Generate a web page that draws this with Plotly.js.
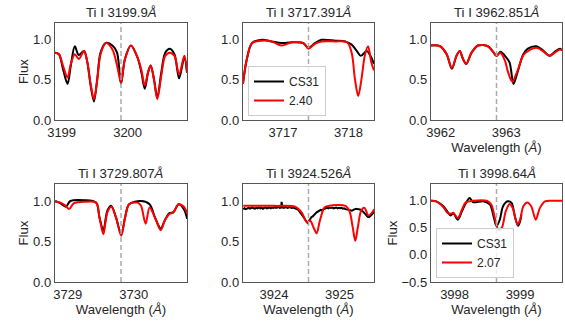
<!DOCTYPE html>
<html>
<head>
<meta charset="utf-8">
<script src="https://cdn.plot.ly/plotly-3.0.1.min.js"></script>
<style>html,body{margin:0;padding:0;background:#fff;}#chart{width:565px;height:323px;}</style>
</head>
<body>
<div id="chart"></div>
<script>
// ---- line centres (Å) ----
const lineCentres = [3199.9, 3717.391, 3962.851, 3729.807, 3924.526, 3998.64];
const panelTitles = ["Ti I 3199.9", "Ti I 3717.391", "Ti I 3962.851", "Ti I 3729.807", "Ti I 3924.526", "Ti I 3998.64"];
const xTicks = [[3199, 3200], [3717, 3718], [3962, 3963], [3729, 3730], [3924, 3925], [3998, 3999]];
const legendLabels = {obs: "CS31", syn2: "2.40", syn6: "2.07"};

// ---- panel 1: Ti I 3199.9 ----
const wl1Obs = [3198.90,3198.96,3199.02,3199.09,3199.14,3199.20,3199.26,3199.34,3199.39,3199.44,3199.49,3199.54,3199.59,3199.67,3199.77,3199.84,3199.90,3199.96,3200.05,3200.15,3200.21,3200.26,3200.31,3200.35,3200.40,3200.45,3200.51,3200.57,3200.64,3200.71,3200.78,3200.86,3200.90];
const fl1Obs = [0.84,0.82,0.64,0.45,0.68,0.92,0.81,0.86,0.72,0.43,0.23,0.51,0.84,0.96,0.93,0.84,0.45,0.76,0.93,0.78,0.59,0.39,0.59,0.68,0.51,0.28,0.59,0.84,0.89,0.82,0.52,0.78,0.59];
const wl1Syn = wl1Obs;
const fl1Syn = [0.84,0.82,0.68,0.53,0.70,0.82,0.76,0.86,0.72,0.45,0.26,0.50,0.82,0.96,0.88,0.68,0.47,0.76,0.93,0.78,0.62,0.43,0.60,0.68,0.50,0.26,0.55,0.80,0.84,0.80,0.57,0.80,0.60];

// ---- panel 2: Ti I 3717.391 ----
const wl2Obs = [3716.39,3716.45,3716.53,3716.68,3716.83,3716.98,3717.14,3717.31,3717.39,3717.49,3717.59,3717.80,3717.95,3718.05,3718.13,3718.19,3718.28,3718.35,3718.39];
const fl2Obs = [0.45,0.76,0.96,1.00,0.98,0.96,0.97,0.96,0.90,0.96,1.00,0.99,0.98,0.94,0.86,0.80,0.86,0.78,0.70];
const wl2Syn = [3716.39,3716.45,3716.53,3716.68,3716.83,3716.98,3717.14,3717.31,3717.39,3717.49,3717.59,3717.80,3717.98,3718.05,3718.10,3718.15,3718.20,3718.25,3718.30,3718.35,3718.39];
const fl2Syn = [0.45,0.76,0.96,0.99,0.98,0.93,0.97,0.96,0.89,0.95,0.98,0.98,0.97,0.84,0.51,0.30,0.51,0.80,0.92,0.72,0.62];

// ---- panel 3: Ti I 3962.851 ----
const wl3Obs = [3961.85,3961.99,3962.09,3962.17,3962.24,3962.29,3962.34,3962.39,3962.47,3962.57,3962.72,3962.80,3962.85,3962.91,3962.98,3963.05,3963.11,3963.17,3963.26,3963.33,3963.46,3963.56,3963.66,3963.74,3963.82,3963.85];
const fl3Obs = [0.93,0.92,0.82,0.64,0.80,0.86,0.76,0.70,0.84,0.93,0.92,0.85,0.80,0.85,0.80,0.72,0.45,0.59,0.82,0.89,0.92,0.87,0.80,0.85,0.89,0.87];
const wl3Syn = [3961.85,3961.99,3962.09,3962.17,3962.24,3962.29,3962.34,3962.39,3962.47,3962.57,3962.72,3962.80,3962.85,3962.91,3962.98,3963.03,3963.09,3963.17,3963.26,3963.33,3963.46,3963.56,3963.66,3963.74,3963.82,3963.85];
const fl3Syn = [0.93,0.92,0.82,0.65,0.80,0.86,0.76,0.70,0.84,0.93,0.92,0.85,0.80,0.84,0.74,0.59,0.48,0.61,0.81,0.86,0.90,0.86,0.80,0.84,0.88,0.87];

// ---- panel 4: Ti I 3729.807 ----
const wl4Obs = [3728.81,3728.89,3728.97,3729.04,3729.25,3729.43,3729.48,3729.54,3729.60,3729.66,3729.73,3729.81,3729.87,3729.93,3730.11,3730.24,3730.32,3730.41,3730.47,3730.54,3730.60,3730.68,3730.76,3730.81];
const fl4Obs = [1.00,0.97,0.93,1.00,1.01,0.98,0.80,0.64,0.88,0.94,0.80,0.59,0.80,0.96,1.00,0.96,0.80,0.66,0.76,0.85,0.86,0.96,0.90,0.78];
const wl4Syn = [3728.81,3728.89,3728.97,3729.02,3729.09,3729.25,3729.43,3729.48,3729.54,3729.60,3729.66,3729.73,3729.81,3729.87,3729.93,3730.06,3730.11,3730.18,3730.24,3730.32,3730.41,3730.47,3730.54,3730.60,3730.68,3730.76,3730.81];
const fl4Syn = [0.99,0.98,0.94,0.90,0.97,0.99,0.98,0.80,0.59,0.86,0.93,0.80,0.57,0.80,0.96,0.98,0.94,0.72,0.92,0.80,0.64,0.76,0.84,0.86,0.96,0.93,0.84];

// ---- panel 5: Ti I 3924.526 ----
const wl5Obs = [3923.53,3923.55,3923.57,3923.59,3923.61,3923.63,3923.65,3923.67,3923.69,3923.71,3923.73,3923.75,3923.77,3923.79,3923.81,3923.83,3923.85,3923.87,3923.89,3923.91,3923.93,3923.95,3923.97,3923.99,3924.01,3924.03,3924.05,3924.07,3924.09,3924.11,3924.115,3924.12,3924.13,3924.15,3924.17,3924.19,3924.21,3924.23,3924.25,3924.27,3924.29,3924.31,3924.33,3924.35,3924.37,3924.40,3924.43,3924.46,3924.49,3924.51,3924.53,3924.55,3924.57,3924.59,3924.61,3924.63,3924.65,3924.67,3924.69,3924.71,3924.73,3924.75,3924.77,3924.79,3924.81,3924.83,3924.85,3924.87,3924.89,3924.91,3924.93,3924.95,3924.97,3924.99,3925.01,3925.03,3925.05,3925.07,3925.09,3925.11,3925.13,3925.15,3925.17,3925.19,3925.21,3925.23,3925.25,3925.27,3925.29,3925.31,3925.33,3925.35,3925.37,3925.39,3925.41,3925.43,3925.45,3925.47,3925.49,3925.51,3925.53];
const fl5Obs = [0.90,0.91,0.90,0.91,0.915,0.905,0.91,0.92,0.91,0.905,0.915,0.91,0.92,0.91,0.915,0.905,0.915,0.92,0.91,0.915,0.92,0.91,0.92,0.915,0.925,0.915,0.92,0.925,0.915,0.92,0.99,0.96,0.92,0.915,0.925,0.92,0.915,0.925,0.92,0.915,0.92,0.915,0.91,0.90,0.89,0.86,0.83,0.79,0.75,0.73,0.75,0.78,0.80,0.81,0.83,0.85,0.86,0.87,0.88,0.89,0.885,0.90,0.905,0.91,0.915,0.91,0.92,0.915,0.92,0.91,0.915,0.92,0.91,0.915,0.91,0.915,0.905,0.91,0.90,0.895,0.89,0.885,0.88,0.88,0.89,0.90,0.905,0.90,0.90,0.895,0.89,0.88,0.86,0.84,0.82,0.805,0.80,0.81,0.83,0.85,0.87];
const wl5Syn = [3923.53,3924.02,3924.32,3924.42,3924.50,3924.55,3924.60,3924.65,3924.70,3924.77,3924.83,3925.09,3925.15,3925.20,3925.24,3925.28,3925.33,3925.38,3925.44,3925.49,3925.53];
const fl5Syn = [0.94,0.94,0.93,0.86,0.74,0.76,0.68,0.60,0.76,0.92,0.94,0.94,0.88,0.68,0.51,0.68,0.88,0.915,0.82,0.85,0.90];

// ---- panel 6: Ti I 3998.64 ----
const wl6Obs = [3997.64,3997.72,3997.83,3997.89,3997.94,3997.98,3998.05,3998.11,3998.16,3998.23,3998.28,3998.44,3998.54,3998.59,3998.64,3998.69,3998.74,3998.81,3998.87,3998.92,3998.97,3999.00,3999.02];
const fl6Obs = [1.00,0.99,0.90,0.80,0.73,0.77,0.65,0.80,0.93,1.05,0.975,0.99,0.93,0.74,0.53,0.65,0.90,0.99,0.96,0.71,0.54,0.62,0.75];
const wl6Syn = [3997.64,3997.72,3997.83,3997.89,3997.94,3997.98,3998.05,3998.11,3998.17,3998.28,3998.49,3998.56,3998.61,3998.67,3998.72,3998.78,3998.84,3998.89,3998.96,3999.00,3999.05,3999.11,3999.17,3999.24,3999.30,3999.38,3999.51,3999.64];
const fl6Syn = [1.00,0.99,0.88,0.78,0.76,0.78,0.68,0.83,0.97,1.00,1.00,0.93,0.71,0.47,0.50,0.80,0.94,0.86,0.56,0.65,0.90,0.97,0.90,0.65,0.86,0.99,1.00,1.00];

const obsW = [wl1Obs, wl2Obs, wl3Obs, wl4Obs, wl5Obs, wl6Obs];
const obsF = [fl1Obs, fl2Obs, fl3Obs, fl4Obs, fl5Obs, fl6Obs];
const synW = [wl1Syn, wl2Syn, wl3Syn, wl4Syn, wl5Syn, wl6Syn];
const synF = [fl1Syn, fl2Syn, fl3Syn, fl4Syn, fl5Syn, fl6Syn];
const yRanges = [[0,1.21],[0,1.21],[0,1.21],[0,1.21],[0,1.21],[-0.5,1.31]];

// ---- layout geometry ----
const W = 565, H = 323;
const colPx = [[55,187],[243,374],[431,562]];
const rowPx = [[23,120],[184,282]];

const traces = [];
const layout = {
  width: W, height: H,
  margin: {l:0, r:0, t:0, b:0},
  paper_bgcolor: "#fff", plot_bgcolor: "#fff",
  font: {family: "Liberation Sans, Arial, sans-serif", color: "#262626", size: 12.5},
  showlegend: true,
  shapes: [], annotations: []
};

for (let i = 0; i < 6; i++) {
  const r = Math.floor(i/3), c = i % 3;
  const n = i === 0 ? "" : String(i+1);
  const xa = "x" + n, ya = "y" + n;
  const legendName = i === 1 ? "legend" : (i === 5 ? "legend2" : undefined);
  const showLeg = legendName !== undefined;
  traces.push({
    x: obsW[i], y: obsF[i], xaxis: xa, yaxis: ya, type: "scatter", mode: "lines",
    line: {color: "#000", width: 2, shape: i === 4 ? "linear" : "spline", smoothing: 0.9},
    name: legendLabels.obs, showlegend: showLeg, legend: legendName, hoverinfo: "skip"
  });
  traces.push({
    x: synW[i], y: synF[i], xaxis: xa, yaxis: ya, type: "scatter", mode: "lines",
    line: {color: "#ff0000", width: 2, shape: "spline", smoothing: 0.9},
    name: i === 1 ? legendLabels.syn2 : legendLabels.syn6, showlegend: showLeg, legend: legendName, hoverinfo: "skip"
  });
  const xc = lineCentres[i];
  const axStyle = {showgrid: false, zeroline: false, showline: true, mirror: true,
    linecolor: "#555", linewidth: 1.2, ticks: "", tickfont: {size: 13, color: "#262626"}};
  layout["xaxis" + n] = Object.assign({}, axStyle, {
    domain: [colPx[c][0]/W, colPx[c][1]/W], anchor: ya,
    range: [xc - 1, xc + 1], tickvals: xTicks[i], ticktext: xTicks[i].map(String)
  });
  const yt = i === 5 ? [-0.5, 0, 0.5, 1.0] : [0, 0.5, 1.0];
  layout["yaxis" + n] = Object.assign({}, axStyle, {
    domain: [1 - rowPx[r][1]/H, 1 - rowPx[r][0]/H], anchor: xa,
    range: yRanges[i], tickvals: yt, ticktext: yt.map(v => (v < 0 ? "\u2212" : "") + Math.abs(v).toFixed(1))
  });
  if (r === 1 || i === 2) {
    layout["xaxis" + n].title = {text: "Wavelength (<i>Å</i>)", font: {size: 13.2, color: "#262626"}, standoff: 3};
  }
  if (c === 0 || i === 5) {
    layout["yaxis" + n].title = {text: "Flux", font: {size: 13.2, color: "#262626"}, standoff: 1};
  }
  layout.shapes.push({type: "line", xref: xa, yref: ya + " domain", x0: xc, x1: xc, y0: 0, y1: 1,
    line: {color: "#aaaaaa", width: 1.5, dash: "5px,3px"}});
  layout.annotations.push({text: panelTitles[i] + "<i>Å</i>", xref: "paper", yref: "paper",
    x: (colPx[c][0] + colPx[c][1]) / 2 / W, y: 1 - (rowPx[r][0] - 1) / H,
    xanchor: "center", yanchor: "bottom", showarrow: false, font: {size: 13.2, color: "#262626"}});
}

const legStyle = {bgcolor: "rgba(255,255,255,0.8)", bordercolor: "#cccccc", borderwidth: 1,
  font: {size: 12, color: "#262626"}, xanchor: "left", yanchor: "bottom", tracegroupgap: 0};
layout.legend = Object.assign({}, legStyle, {x: 248/W, y: 1 - 116/H});
layout.legend2 = Object.assign({}, legStyle, {x: 436/W, y: 1 - 278/H});

Plotly.newPlot("chart", traces, layout, {displayModeBar: false, staticPlot: true});
</script>
</body>
</html>
